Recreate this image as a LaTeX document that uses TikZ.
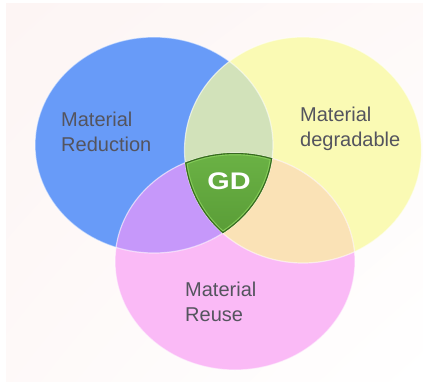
\documentclass[tikz,border=0pt]{standalone}
\usepackage{fontspec}
\setmainfont{Liberation Sans}
\usepackage{tikz}
\usetikzlibrary{positioning,shadings}

\definecolor{bgpink}{RGB}{253,245,244}
\definecolor{redblue}{RGB}{104,155,248}
\definecolor{degyellow}{RGB}{250,250,180}
\definecolor{reusepink}{RGB}{250,186,246}
\definecolor{blueyellow}{RGB}{210,226,186}
\definecolor{bluepink}{RGB}{198,152,250}
\definecolor{yellowpink}{RGB}{250,226,182}
\definecolor{gdlight}{RGB}{108,180,70}
\definecolor{gddark}{RGB}{86,152,52}
\definecolor{gdedge}{RGB}{56,104,34}
\definecolor{gdglow}{RGB}{132,204,88}
\definecolor{labelgray}{RGB}{84,84,94}

\newcommand{\reductionpath}{(154,236) ellipse [x radius=119, y radius=108]}
\newcommand{\degradablepath}{(303,231) ellipse [x radius=118.5, y radius=113]}
\newcommand{\reusepath}{(235,119.5) ellipse [x radius=120, y radius=108.5]}

\begin{document}
\begin{tikzpicture}[x=1pt, y=1pt]
	\tikzstyle{Label}	= [inner sep=0pt, align=left, text=labelgray, font=\fontsize{20}{25}\selectfont]
	\tikzstyle{Core}	= [inner sep=0pt, text=white, font=\fontsize{24}{24}\selectfont\bfseries, xscale=1.2, transform shape]
	\tikzstyle{Rim}		= [draw=white, draw opacity=0.55, line width=1.2pt]

	\useasboundingbox (0,0) rectangle (423,381);
	\shade [upper left=bgpink, upper right=bgpink!60!white, lower left=bgpink!60!white, lower right=white]
		(6,0) rectangle (423,377);

	\fill [redblue] \reductionpath;
	\fill [degyellow] \degradablepath;
	\fill [reusepink] \reusepath;

	\begin{scope}
		\clip \reductionpath;
		\fill [blueyellow] \degradablepath;
		\fill [bluepink] \reusepath;
	\end{scope}
	\begin{scope}
		\clip \degradablepath;
		\fill [yellowpink] \reusepath;
	\end{scope}

	\foreach \shape in {\reductionpath, \degradablepath, \reusepath}
		\draw [Rim] \shape;

	\begin{scope}
		\clip \reductionpath;
		\clip \degradablepath;
		\clip \reusepath;
		\shade [top color=gdlight, bottom color=gddark] (180,130) rectangle (280,235);
		\foreach \shape in {\reductionpath, \degradablepath, \reusepath}
			\draw [gdglow, line width=4.5pt] \shape;
		\foreach \shape in {\reductionpath, \degradablepath, \reusepath}
			\draw [gdedge, line width=2.2pt] \shape;
	\end{scope}

	\node (reduction) [Label, anchor=north west] at (61,269) {Material\\Reduction};
	\node (degradable) [Label, anchor=north west] at (300,274) {Material\\degradable};
	\node (reuse) [Label, anchor=north west] at (185,99) {Material\\Reuse};
	\node (gd) [Core] at (229,200) {GD};
\end{tikzpicture}
\end{document}
